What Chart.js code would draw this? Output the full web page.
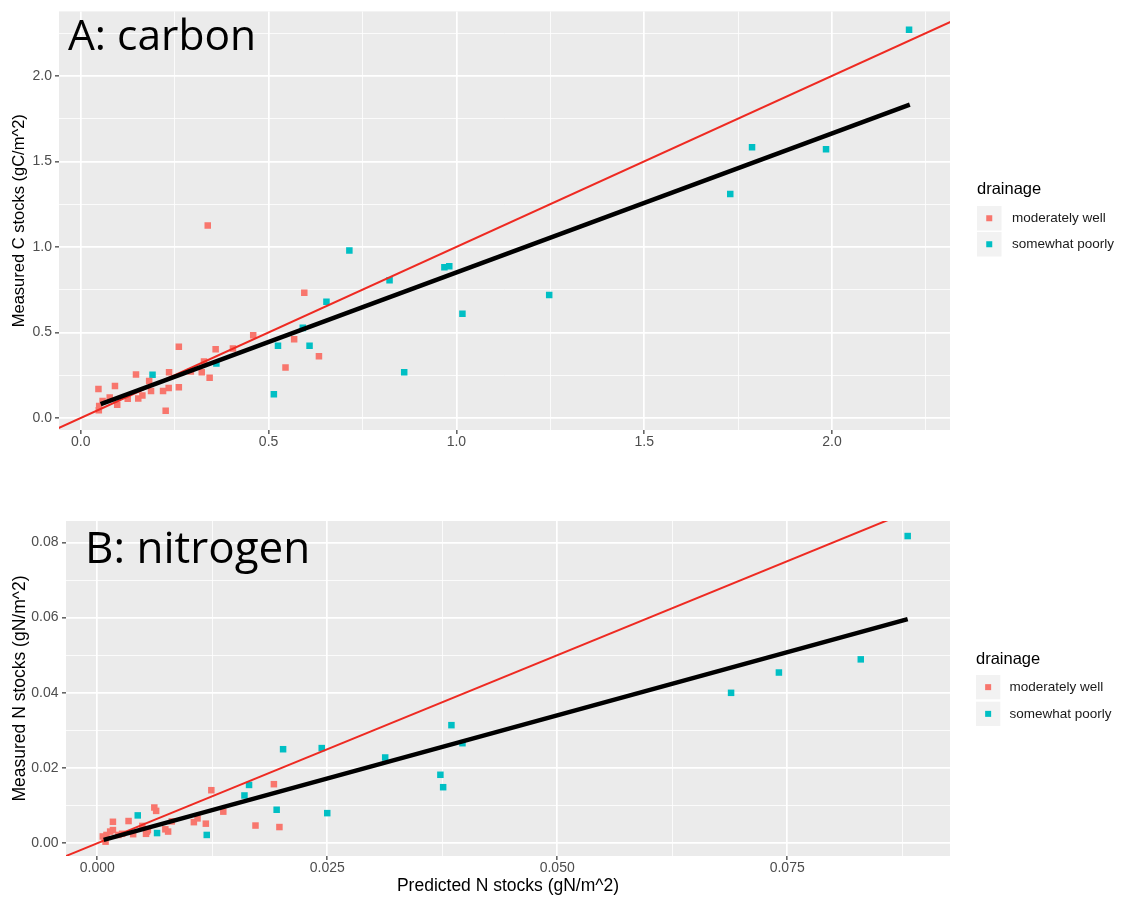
<!DOCTYPE html>
<html>
<head>
<meta charset="utf-8">
<script src="https://cdn.jsdelivr.net/npm/chart.js@4.4.0/dist/chart.umd.min.js"></script>
<style>
  body { margin: 0; background: #fff; }
  #boxC { position: absolute; left: 0; top: 0; width: 1122px; height: 470px; }
  #boxN { position: absolute; left: 0; top: 480px; width: 1122px; height: 423px; }
</style>
</head>
<body>
<div id="boxC"><canvas id="graficoC"></canvas></div>
<div id="boxN"><canvas id="graficoN"></canvas></div>
<script>
var drainage = ['moderately well', 'somewhat poorly'];
var colors = ['#F8766D', '#00BFC4'];

/* ---------------- A: carbon ---------------- */
var predCwell = [0.338, 0.595, 0.568, 0.634, 0.545, 0.459, 0.261, 0.359, 0.405, 0.328, 0.293, 0.322, 0.343, 0.147, 0.235, 0.182,
                 0.234, 0.261, 0.187, 0.219, 0.091, 0.047, 0.164, 0.153, 0.125, 0.077, 0.058, 0.097, 0.049, 0.048, 0.226];
var measCwell = [1.125, 0.732, 0.460, 0.361, 0.296, 0.484, 0.417, 0.402, 0.406, 0.330, 0.272, 0.267, 0.236, 0.255, 0.267, 0.216,
                 0.176, 0.180, 0.158, 0.158, 0.187, 0.170, 0.131, 0.114, 0.112, 0.120, 0.100, 0.077, 0.070, 0.046, 0.042];
var predCpoor = [2.205, 1.787, 1.729, 1.984, 0.715, 0.822, 0.968, 0.981, 1.016, 1.247, 0.861, 0.654, 0.591, 0.609, 0.525, 0.514, 0.361, 0.191];
var measCpoor = [2.270, 1.583, 1.310, 1.571, 0.980, 0.806, 0.881, 0.887, 0.609, 0.719, 0.267, 0.680, 0.527, 0.423, 0.423, 0.139, 0.319, 0.253];
var fitCx = [0.053, 2.207];
var fitCy = [0.081, 1.832];
var oneToOneC = [-0.2, 2.6];
var ticksXC = [0, 0.25, 0.5, 0.75, 1, 1.25, 1.5, 1.75, 2, 2.25];
var labelsXC = ['0.0', '', '0.5', '', '1.0', '', '1.5', '', '2.0', ''];
var ticksYC = [0, 0.25, 0.5, 0.75, 1, 1.25, 1.5, 1.75, 2, 2.25];
var labelsYC = ['0.0', '', '0.5', '', '1.0', '', '1.5', '', '2.0', ''];

/* ---------------- B: nitrogen ---------------- */
var predNwell = [0.0192, 0.0124, 0.0137, 0.0172, 0.0198, 0.0105, 0.0109, 0.0118, 0.0017, 0.0034, 0.0062, 0.0064, 0.0077, 0.0074,
                 0.0081, 0.0053, 0.0054, 0.0039, 0.0027, 0.0055, 0.0049, 0.0014, 0.0017, 0.0010, 0.0008, 0.0009, 0.0006, 0.0023];
var measNwell = [0.0157, 0.0141, 0.0084, 0.0047, 0.0043, 0.0056, 0.0066, 0.0052, 0.0057, 0.0059, 0.0095, 0.0086, 0.0031, 0.0037,
                 0.0058, 0.0025, 0.0031, 0.0024, 0.0025, 0.0035, 0.0046, 0.0031, 0.0035, 0.0022, 0.0011, 0.0004, 0.0018, 0.0022];
var predNpoor = [0.0881, 0.0830, 0.0741, 0.0689, 0.0202, 0.0244, 0.0313, 0.0385, 0.0397, 0.0373, 0.0376, 0.0165, 0.0160, 0.0195,
                 0.0250, 0.0119, 0.0044, 0.0065];
var measNpoor = [0.0817, 0.0489, 0.0454, 0.0400, 0.0250, 0.0253, 0.0228, 0.0314, 0.0266, 0.0182, 0.0149, 0.0155, 0.0127, 0.0089,
                 0.0080, 0.0022, 0.0074, 0.0027];
var fitNx = [0.0007, 0.0881];
var fitNy = [0.0009, 0.0596];
var oneToOneN = [-0.01, 0.1];
var ticksXN = [0, 0.0125, 0.025, 0.0375, 0.05, 0.0625, 0.075, 0.0875];
var labelsXN = ['0.000', '', '0.025', '', '0.050', '', '0.075', ''];
var ticksYN = [0, 0.01, 0.02, 0.03, 0.04, 0.05, 0.06, 0.07, 0.08];
var labelsYN = ['0.00', '', '0.02', '', '0.04', '', '0.06', '', '0.08'];

function pairs(xs, ys) {
  return xs.map(function (x, i) { return { x: x, y: ys[i] }; });
}

var sansFont = '"Liberation Sans", Arial, sans-serif';

// grey panel, big letter title and the drainage legend
var panelDeco = {
  id: 'panelDeco',
  beforeDraw: function (chart) {
    var a = chart.chartArea, ctx = chart.ctx;
    ctx.save();
    ctx.fillStyle = '#ebebeb';
    ctx.fillRect(a.left, a.top, a.right - a.left, a.bottom - a.top);
    ctx.restore();
  },
  afterDraw: function (chart, args, o) {
    var ctx = chart.ctx;
    ctx.save();
    ctx.fillStyle = '#000';
    ctx.textBaseline = 'alphabetic';
    ctx.textAlign = 'left';
    ctx.font = o.letterSize + 'px "Open Sans", sans-serif';
    ctx.fillText(o.letter, o.letterX, o.letterY);

    ctx.textBaseline = 'middle';
    ctx.font = '16.5px ' + sansFont;
    ctx.fillText('drainage', o.legX, o.legTitleY);
    ctx.font = '13.5px ' + sansFont;
    for (var i = 0; i < drainage.length; i++) {
      var top = o.keyTop + i * o.keyStep;
      ctx.fillStyle = '#f2f2f2';
      ctx.fillRect(o.legX, top, o.keySize, o.keySize);
      ctx.fillStyle = colors[i];
      ctx.fillRect(o.legX + o.keySize / 2 - 3, top + o.keySize / 2 - 3, 6, 6);
      ctx.fillStyle = '#1a1a1a';
      ctx.fillText(drainage[i], o.legX + o.textDx, top + o.keySize / 2);
    }
    ctx.restore();
  }
};

function axis(ticks, labels, min, max, fitSize, isX, title, labelPad) {
  var ax = {
    type: 'linear',
    min: min,
    max: max,
    afterBuildTicks: function (s) { s.ticks = ticks.map(function (v) { return { value: v }; }); },
    afterFit: function (s) { if (isX) s.height = fitSize; else s.width = fitSize; },
    ticks: {
      autoSkip: false,
      maxRotation: 0,
      color: '#4d4d4d',
      padding: labelPad,
      font: { family: sansFont, size: 14 },
      callback: function (v, i) { return labels[i]; }
    },
    grid: {
      color: '#ffffff',
      lineWidth: function (c) { return labels[c.index] ? 1.7 : 0.8; },
      drawTicks: true,
      tickLength: 4,
      tickWidth: 1.2,
      tickColor: function (c) { return labels[c.index] ? '#333333' : 'rgba(0,0,0,0)'; }
    },
    border: { display: false }
  };
  if (title) ax.title = title;
  return ax;
}

function panelChart(id, d) {
  var ctx = document.getElementById(id).getContext('2d');
  return new Chart(ctx, {
    type: 'scatter',
    data: {
      datasets: [
        { label: 'fit', data: pairs(d.fitX, d.fitY), showLine: true, borderColor: '#000000', borderWidth: 4.5,
          pointRadius: 0, order: 0 },
        { label: '1:1', data: pairs(d.one, d.one), showLine: true, borderColor: '#ee2a22', borderWidth: 2,
          pointRadius: 0, order: 1 },
        { label: drainage[0], data: pairs(d.wellX, d.wellY), backgroundColor: colors[0], pointStyle: 'rect',
          pointRadius: 4.6, borderWidth: 0, order: 2 },
        { label: drainage[1], data: pairs(d.poorX, d.poorY), backgroundColor: colors[1], pointStyle: 'rect',
          pointRadius: 4.6, borderWidth: 0, order: 3 }
      ]
    },
    options: {
      responsive: true,
      maintainAspectRatio: false,
      animation: false,
      layout: { padding: d.padding },
      plugins: {
        legend: { display: false },
        tooltip: { enabled: false },
        panelDeco: d.deco
      },
      scales: { x: d.x, y: d.y }
    },
    plugins: [panelDeco]
  });
}

panelChart('graficoC', {
  fitX: fitCx, fitY: fitCy, one: oneToOneC,
  wellX: predCwell, wellY: measCwell, poorX: predCpoor, poorY: measCpoor,
  padding: { top: 8, right: 172, left: 0, bottom: 0 },
  x: axis(ticksXC, labelsXC, -0.058, 2.314, 40, true, null, 0),
  y: axis(ticksYC, labelsYC, -0.07, 2.377, 59, false,
    { display: true, text: 'Measured C stocks (gC/m^2)', color: '#000', font: { family: sansFont, size: 16.5 }, padding: { top: 10, bottom: 0 } }, 3),
  deco: { letter: 'A: carbon', letterSize: 42.5, letterX: 68, letterY: 50,
          legX: 977, legTitleY: 189, keyTop: 206, keyStep: 26, keySize: 24.5, textDx: 35 }
});

panelChart('graficoN', {
  fitX: fitNx, fitY: fitNy, one: oneToOneN,
  wellX: predNwell, wellY: measNwell, poorX: predNpoor, poorY: measNpoor,
  padding: { top: 41, right: 172, left: 0, bottom: 0 },
  x: axis(ticksXN, labelsXN, -0.0034, 0.0927, 47, true,
    { display: true, text: 'Predicted N stocks (gN/m^2)', color: '#000', font: { family: sansFont, size: 17.5 }, padding: { top: 0, bottom: 6.5 } }, 0),
  y: axis(ticksYN, labelsYN, -0.0034, 0.0857, 66, false,
    { display: true, text: 'Measured N stocks (gN/m^2)', color: '#000', font: { family: sansFont, size: 17.5 }, padding: { top: 10, bottom: 0 } }, 3.5),
  deco: { letter: 'B: nitrogen', letterSize: 44, letterX: 85, letterY: 83,
          legX: 976, legTitleY: 179, keyTop: 195, keyStep: 26.7, keySize: 24.3, textDx: 33.5 }
});
</script>
</body>
</html>
